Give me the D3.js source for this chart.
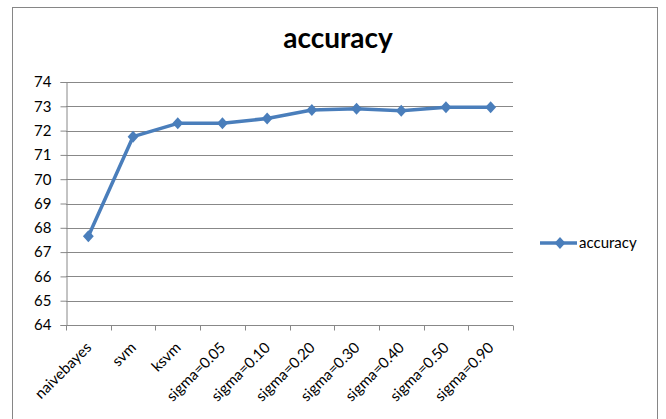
<!DOCTYPE html>
<html>
<head>
<meta charset="utf-8">
<script src="https://cdn.jsdelivr.net/npm/d3@7"></script>
<style>
  body { margin: 0; background: #fff; }
  svg text { font-family: Lato, "Open Sans", sans-serif; fill: #000; }
</style>
</head>
<body>
<div id="chart"></div>
<script>
const categories = ['naivebayes', 'svm', 'ksvm', 'sigma=0.05', 'sigma=0.10',
  'sigma=0.20', 'sigma=0.30', 'sigma=0.40', 'sigma=0.50', 'sigma=0.90'];
const accuracy = [67.65, 71.75, 72.3, 72.3, 72.5, 72.85, 72.9, 72.82, 72.96, 72.96];
const yTicks = [64, 65, 66, 67, 68, 69, 70, 71, 72, 73, 74];

const W = 666, H = 419;
const margin = { top: 82, left: 66 };
const width = 513 - 66, height = 325 - 82;
const blue = '#4a7ebb';
const fs = '15px';

const svg = d3.select('#chart').append('svg')
  .attr('width', W)
  .attr('height', H);

// chart frame
svg.append('rect')
  .attr('x', 12.5).attr('y', 7.5)
  .attr('width', 645).attr('height', 430)
  .attr('fill', '#fff')
  .attr('stroke', '#868686');

const x = d3.scaleBand()
  .domain(categories)
  .range([0, width]);

const y = d3.scaleLinear()
  .domain([64, 74])
  .range([height, 0]);

const g = svg.append('g')
  .attr('transform', 'translate(' + margin.left + ',' + margin.top + ')');

// gridlines
g.append('g')
  .selectAll('line').data(yTicks.slice(1))
  .enter().append('line')
    .attr('x1', 0).attr('x2', width)
    .attr('y1', d => Math.round(y(d)) + 0.5)
    .attr('y2', d => Math.round(y(d)) + 0.5)
    .attr('stroke', '#888')
    .attr('stroke-width', 1);

// y axis
const yAxis = g.append('g')
  .attr('transform', 'translate(0.5,0)')
  .call(d3.axisLeft(y).tickValues(yTicks).tickSize(6).tickPadding(9));
yAxis.selectAll('path, line').attr('stroke', '#888');
yAxis.selectAll('text').style('font-size', fs).attr('fill', '#000');

// x axis with boundary ticks
const xAxis = g.append('g')
  .attr('transform', 'translate(0,' + (height + 0.5) + ')');
xAxis.append('line')
  .attr('x1', 0).attr('x2', width)
  .attr('stroke', '#888');
xAxis.selectAll('line.tk')
  .data(d3.range(categories.length + 1))
  .enter().append('line')
    .attr('class', 'tk')
    .attr('x1', i => Math.round(i * x.step()) + 0.5)
    .attr('x2', i => Math.round(i * x.step()) + 0.5)
    .attr('y1', 0).attr('y2', 5)
    .attr('stroke', '#888');
xAxis.selectAll('text')
  .data(categories)
  .enter().append('text')
    .attr('transform', d => 'translate(' + (x(d) + x.bandwidth() / 2 + 4) + ',23) rotate(-45)')
    .attr('text-anchor', 'end')
    .style('font-size', fs)
    .text(d => d);

// line + markers
const line = d3.line()
  .x((d, i) => x(categories[i]) + x.bandwidth() / 2)
  .y(d => y(d));

g.append('path')
  .datum(accuracy)
  .attr('d', line)
  .attr('fill', 'none')
  .attr('stroke', blue)
  .attr('stroke-width', 3.5)
  .attr('stroke-linejoin', 'round');

const diamond = d3.symbol().type(d3.symbolDiamond2).size(75);
g.selectAll('path.pt')
  .data(accuracy)
  .enter().append('path')
    .attr('class', 'pt')
    .attr('d', diamond)
    .attr('transform', (d, i) => 'translate(' + (x(categories[i]) + x.bandwidth() / 2) + ',' + y(d) + ') scale(1,1.1)')
    .attr('fill', blue);

// title
svg.append('text')
  .attr('x', 338)
  .attr('y', 48)
  .attr('text-anchor', 'middle')
  .style('font-size', '28px')
  .style('font-weight', 'bold')
  .text('accuracy');

// legend
const legend = svg.append('g')
  .attr('transform', 'translate(540,243)');
legend.append('line')
  .attr('x1', 0).attr('x2', 37)
  .attr('stroke', blue)
  .attr('stroke-width', 3.5);
legend.append('path')
  .attr('d', diamond)
  .attr('transform', 'translate(20,0) scale(1,1.1)')
  .attr('fill', blue);
legend.append('text')
  .attr('x', 39)
  .attr('y', 5)
  .style('font-size', fs)
  .text('accuracy');
</script>
</body>
</html>
